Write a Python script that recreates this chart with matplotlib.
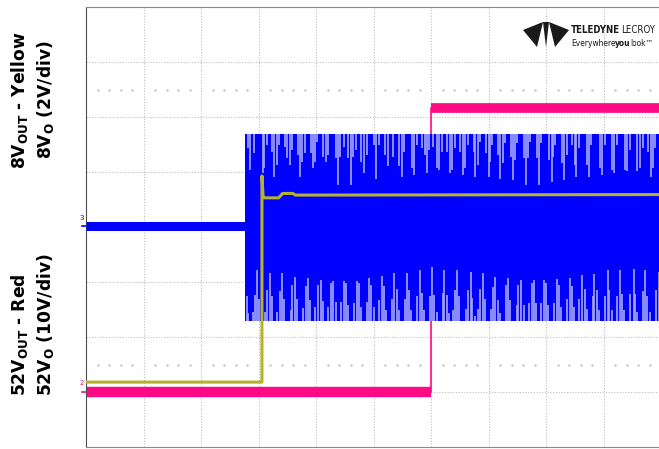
import numpy as np
import matplotlib
matplotlib.use("Agg")
import matplotlib.pyplot as plt
from matplotlib.patches import Polygon

plt.rcParams['mathtext.default'] = 'regular'

# screen is 10 x 8 divisions, all values in divisions
N_XDIV = 10
N_YDIV = 8

# channel 3 (blue) - switch node, idle then switching
BLUE_BASE = 4.02
BLUE_START = 2.77
BLUE_HI = 5.69
BLUE_LO = 2.30

# pale gaps hanging from the top of the switching envelope
top_gap_x = [2.81, 2.86, 2.93, 3.07, 3.10, 3.14, 3.24, 3.27, 3.32, 3.36, 3.46, 3.49,
             3.54, 3.58, 3.69, 3.72, 3.76, 3.80, 3.91, 3.94, 3.98, 4.02, 4.13, 4.17,
             4.21, 4.34, 4.39, 4.42, 4.49, 4.55, 4.61, 4.65, 4.70, 4.79, 4.83, 4.88,
             5.00, 5.04, 5.10, 5.20, 5.26, 5.34, 5.45, 5.49, 5.53, 5.67, 5.70, 5.75,
             5.85, 5.90, 5.93, 5.97, 6.03, 6.11, 6.14, 6.19, 6.28, 6.33, 6.37, 6.41,
             6.50, 6.55, 6.59, 6.65, 6.74, 6.77, 6.81, 6.85, 6.95, 7.00, 7.03, 7.06,
             7.17, 7.20, 7.25, 7.29, 7.39, 7.43, 7.46, 7.50, 7.61, 7.65, 7.69, 7.73,
             7.84, 7.88, 7.92, 8.06, 8.10, 8.13, 8.16, 8.27, 8.31, 8.36, 8.46, 8.50,
             8.53, 8.58, 8.72, 8.75, 8.79, 8.94, 8.98, 9.03, 9.15, 9.19, 9.23, 9.37,
             9.41, 9.46, 9.59, 9.63, 9.68, 9.78, 9.82, 9.86, 9.90]
top_gap_len = [0.26, 0.65, 0.35, 0.71, 0.62, 0.20, 0.32, 0.78, 0.56, 0.20, 0.23, 0.44,
               0.56, 0.29, 0.38, 0.78, 0.50, 0.35, 0.35, 0.62, 0.50, 0.14, 0.41, 0.50,
               0.38, 0.44, 0.93, 0.41, 0.23, 0.44, 0.93, 0.41, 0.29, 0.50, 0.71, 0.38,
               0.20, 0.81, 0.20, 0.38, 0.59, 0.41, 0.59, 0.78, 0.32, 0.62, 0.75, 0.20,
               0.26, 0.38, 0.71, 0.29, 0.23, 0.62, 0.65, 0.32, 0.32, 0.71, 0.65, 0.26,
               0.32, 0.75, 0.62, 0.20, 0.32, 0.78, 0.56, 0.14, 0.35, 0.78, 0.50, 0.20,
               0.38, 0.81, 0.53, 0.17, 0.41, 0.84, 0.47, 0.17, 0.44, 0.93, 0.44, 0.14,
               0.44, 0.93, 0.17, 0.47, 0.87, 0.41, 0.20, 0.53, 0.84, 0.38, 0.20, 0.56,
               0.78, 0.26, 0.56, 0.78, 0.20, 0.62, 0.75, 0.20, 0.65, 0.71, 0.20, 0.65,
               0.68, 0.29, 0.68, 0.62, 0.26, 0.32, 0.78, 0.62, 0.26]

# pale gaps rising from the bottom of the switching envelope
bot_gap_x = [2.80, 2.82, 2.90, 2.94, 2.98, 3.01, 3.12, 3.15, 3.20, 3.24, 3.33, 3.37,
             3.41, 3.45, 3.56, 3.59, 3.63, 3.67, 3.78, 3.82, 3.86, 3.90, 3.99, 4.04,
             4.08, 4.12, 4.21, 4.26, 4.30, 4.34, 4.43, 4.48, 4.52, 4.56, 4.66, 4.71,
             4.75, 4.78, 4.88, 4.92, 4.96, 5.00, 5.10, 5.14, 5.18, 5.22, 5.33, 5.36,
             5.40, 5.44, 5.54, 5.58, 5.62, 5.66, 5.76, 5.80, 5.84, 5.88, 5.98, 6.02,
             6.06, 6.10, 6.20, 6.23, 6.27, 6.32, 6.39, 6.42, 6.46, 6.49, 6.60, 6.65,
             6.69, 6.72, 6.77, 6.82, 6.86, 6.90, 6.94, 7.04, 7.08, 7.12, 7.16, 7.20,
             7.30, 7.34, 7.37, 7.49, 7.52, 7.56, 7.61, 7.70, 7.75, 7.79, 7.83, 7.92,
             7.97, 8.00, 8.04, 8.14, 8.19, 8.23, 8.26, 8.36, 8.41, 8.45, 8.49, 8.58,
             8.62, 8.67, 8.71, 8.81, 8.84, 8.88, 8.92, 9.03, 9.07, 9.10, 9.14, 9.24,
             9.29, 9.33, 9.36, 9.46, 9.53, 9.55, 9.58, 9.68, 9.73, 9.76, 9.80, 9.91,
             9.96]
bot_gap_len = [0.44, 0.13, 0.16, 0.47, 0.92, 0.40, 0.16, 0.56, 0.86, 0.44, 0.16, 0.53,
               0.86, 0.40, 0.19, 0.65, 0.80, 0.40, 0.22, 0.62, 0.77, 0.37, 0.25, 0.65,
               0.74, 0.35, 0.25, 0.68, 0.72, 0.33, 0.33, 0.72, 0.68, 0.28, 0.32, 0.72,
               0.68, 0.25, 0.33, 0.77, 0.65, 0.25, 0.38, 0.81, 0.62, 0.19, 0.40, 0.86,
               0.57, 0.19, 0.40, 0.86, 0.56, 0.19, 0.45, 0.92, 0.50, 0.19, 0.45, 0.97,
               0.47, 0.16, 0.50, 0.92, 0.47, 0.13, 0.19, 0.56, 0.92, 0.45, 0.21, 0.56,
               0.89, 0.41, 0.08, 0.21, 0.57, 0.86, 0.39, 0.21, 0.61, 0.80, 0.38, 0.14,
               0.65, 0.77, 0.38, 0.29, 0.65, 0.74, 0.29, 0.32, 0.69, 0.73, 0.32, 0.32,
               0.73, 0.68, 0.28, 0.32, 0.75, 0.65, 0.25, 0.39, 0.77, 0.62, 0.24, 0.39,
               0.83, 0.57, 0.21, 0.45, 0.85, 0.56, 0.19, 0.45, 0.92, 0.56, 0.19, 0.45,
               0.92, 0.48, 0.19, 0.48, 0.94, 0.48, 0.16, 0.53, 0.92, 0.45, 0.16, 0.56,
               0.89]

# channel 1 (yellow) - 8V output
yel_x = [0.0, 3.06, 3.06, 3.08, 3.10, 3.35, 3.42, 3.60, 3.64, 10.0]
yel_y = [1.18, 1.18, 4.93, 4.56, 4.53, 4.53, 4.61, 4.61, 4.58, 4.59]

# channel 2 (pink) - 52V output
pink_x = [0.0, 6.0, 6.0, 10.0]
pink_y = [1.00, 1.00, 6.17, 6.17]

BLUE = '#0000ff'
GAP = '#a6a6ff'
YELLOW = '#b4b22e'
PINK = '#ff0a84'
GRID = '#bdbdbd'

W, H = 659, 449
fig = plt.figure(figsize=(W / 100, H / 100), dpi=100)
ax = fig.add_axes([86 / W, 2 / H, 575 / W, 440 / H])
ax.set_xlim(0, N_XDIV)
ax.set_ylim(0, N_YDIV)
ax.set_xticks([])
ax.set_yticks([])

# graticule
for gx in range(1, N_XDIV):
    ax.axvline(gx, color=GRID, lw=0.8, ls=(0, (1, 1.5)), zorder=0)
for gy in range(1, N_YDIV):
    ax.axhline(gy, color=GRID, lw=0.8, ls=(0, (1, 1.5)), zorder=0)
dots = [d / 5 for d in range(1, N_XDIV * 5) if d % 5]
for row in (1.49, 6.49):
    ax.plot(dots, [row] * len(dots), ls='none', marker='s', ms=0.8,
            color='#cccccc', zorder=0)

for side in ('top', 'bottom'):
    ax.spines[side].set_color('#8a8a8a')
ax.spines['left'].set_color('#4d4d4d')
ax.spines['right'].set_visible(False)

# pink trace (under the blue envelope)
ax.plot(pink_x[:2], pink_y[:2], color=PINK, lw=7.5, solid_capstyle='butt', zorder=2)
ax.plot(pink_x[2:], pink_y[2:], color=PINK, lw=7.0, solid_capstyle='butt', zorder=2)
ax.plot(pink_x[1:3], pink_y[1:3], color=PINK, lw=1.2, zorder=2)

# blue trace
ax.plot([0, BLUE_START], [BLUE_BASE, BLUE_BASE], color=BLUE, lw=6.5,
        solid_capstyle='butt', zorder=3)
ax.fill_between([BLUE_START, N_XDIV], BLUE_LO, BLUE_HI, color=BLUE, lw=0, zorder=3)
ax.vlines(top_gap_x, [BLUE_HI - v for v in top_gap_len], BLUE_HI,
          color=GAP, lw=1.2, zorder=4)
ax.vlines(bot_gap_x, BLUE_LO, [BLUE_LO + v for v in bot_gap_len],
          color=GAP, lw=1.2, zorder=4)

# yellow trace on top
ax.plot(yel_x, yel_y, color=YELLOW, lw=2.2, zorder=5)

# channel markers on the left edge
ax.text(-0.03, BLUE_BASE + 0.15, '3', color=BLUE, fontsize=5, ha='right',
        va='center', clip_on=False)
ax.plot([-0.07, 0.03], [BLUE_BASE, BLUE_BASE], color=BLUE, lw=1.2, clip_on=False)
ax.text(-0.03, pink_y[0] + 0.17, '2', color=PINK, fontsize=5, ha='right',
        va='center', clip_on=False)
ax.plot([-0.07, 0.03], [pink_y[0], pink_y[0]], color=PINK, lw=1.2, clip_on=False)


def fx(px):
    return px / W


def fy(py):
    return 1 - py / H


# side labels
lab = dict(rotation=90, ha='center', va='center', fontsize=12.3,
           fontweight='bold', color='black', family='DejaVu Sans')
fig.text(fx(20), fy(100), r'8V$_{\mathregular{OUT}}$ - Yellow', **lab)
fig.text(fx(46), fy(100), r'8V$_{\mathregular{O}}$ (2V/div)', **lab)
fig.text(fx(20), fy(335), r'52V$_{\mathregular{OUT}}$ - Red', **lab)
fig.text(fx(46), fy(325), r'52V$_{\mathregular{O}}$ (10V/div)', **lab)

# Teledyne LeCroy logo
logo = [
    [(523, 30), (543, 22), (537, 47)],
    [(569, 30), (549, 22), (555, 47)],
    [(543, 22), (549, 22), (546, 47)],
]
for pts in logo:
    fig.patches.append(Polygon([(fx(a), fy(b)) for a, b in pts], closed=True,
                               transform=fig.transFigure, color='#1a1a1a', lw=0))

brand = dict(family='DejaVu Sans', stretch='condensed', color='#1a1a1a')
t = fig.text(fx(571), fy(33), 'TELEDYNE', fontsize=6.9, fontweight='bold',
             va='baseline', **brand)
ax.annotate('LECROY', xy=(1, 0), xycoords=t, xytext=(1.0, 0),
            textcoords='offset points', fontsize=6.9, va='bottom', **brand)
t = fig.text(fx(571), fy(46), 'Everywhere', fontsize=6.0, va='baseline', **brand)
t = ax.annotate('you', xy=(1, 0), xycoords=t, xytext=(-0.3, 0),
                textcoords='offset points', fontsize=6.0, fontweight='bold',
                va='bottom', **brand)
ax.annotate('look\u2122', xy=(1, 0), xycoords=t, xytext=(-0.3, 0),
            textcoords='offset points', fontsize=6.0, va='bottom', **brand)

fig.savefig('out.png', dpi=100)
